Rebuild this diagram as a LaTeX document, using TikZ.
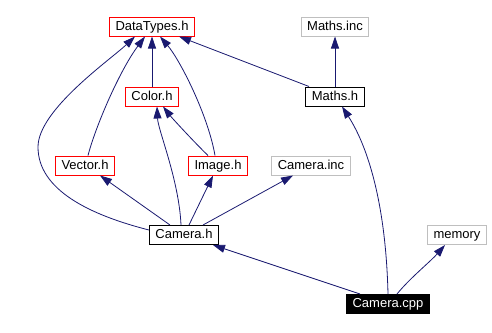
\documentclass[tikz,border=0pt]{standalone}
\usepackage{fontspec}
\setmainfont{Liberation Sans}
\usetikzlibrary{arrows.meta}
\definecolor{edgeblue}{HTML}{191970}
\definecolor{lightframe}{HTML}{BFBFBF}
\begin{document}
\begin{tikzpicture}[x=1pt,y=-1pt,
  file/.style={draw,line width=1pt,inner xsep=6pt,inner ysep=0pt,text=black,
    minimum height=19pt,font=\fontsize{13}{13}\selectfont,text height=9.5pt,text depth=2.5pt},
  redfile/.style={file,draw=red},
  greyfile/.style={file,draw=lightframe},
  blackfile/.style={file,draw=black},
  mainfile/.style={file,draw=black,fill=black,text=white},
  dep/.style={draw=edgeblue,line width=0.8pt,
    -{Triangle[length=12pt,width=8pt]}}]
\useasboundingbox (0,0) rectangle (492,332);

% files
\node[redfile]   (dt)     at (152,26.5)  {DataTypes.h};
\node[greyfile]  (minc)   at (335,26.5)  {Maths.inc};
\node[redfile]   (col)    at (152,96.5)  {Color.h};
\node[blackfile] (mh)     at (335,96.5)  {Maths.h};
\node[redfile]   (vec)    at (85,165.5)  {Vector.h};
\node[redfile]   (img)    at (218,165.5) {Image.h};
\node[greyfile]  (caminc) at (311,165.5) {Camera.inc};
\node[blackfile] (camh)   at (184,235)   {Camera.h};
\node[greyfile]  (mem)    at (457,235)   {memory};
\node[mainfile]  (cpp)    at (388,304)   {Camera.cpp};

% include edges of Camera.cpp
\draw[dep] ([xshift=-28pt]cpp.north) -- ([xshift=29pt]camh.south);
\draw[dep] (cpp.north) .. controls (386,210) and (370,150) .. ([xshift=7pt]mh.south);
\draw[dep] ([xshift=9pt]cpp.north) .. controls (410,278) and (430,262) .. ([xshift=-12pt]mem.south);

% include edges of Camera.h
\draw[dep] ([xshift=-14pt]camh.north) -- ([xshift=15pt]vec.south);
\draw[dep] ([xshift=-3pt]camh.north) .. controls (179,180) and (158,130) .. ([xshift=5pt]col.south);
\draw[dep] ([xshift=5pt]camh.north) -- ([xshift=-5pt]img.south);
\draw[dep] ([xshift=19pt]camh.north) -- ([xshift=-18pt]caminc.south);
\draw[dep] ([yshift=5pt]camh.west) .. controls (90,215) and (38,190) .. (38,147)
  .. controls (38,110) and (110,60) .. ([xshift=-17pt]dt.south);

% include edges of the headers
\draw[dep] ([xshift=3pt]vec.north) .. controls (96,125) and (120,70) .. ([xshift=-7pt]dt.south);
\draw[dep] (col.north) -- (dt.south);
\draw[dep] ([xshift=-3pt]img.north) .. controls (208,115) and (180,60) .. ([xshift=8pt]dt.south);
\draw[dep] ([xshift=-10pt]img.north) .. controls (195,143) and (172,118) .. ([xshift=11pt]col.south);
\draw[dep] ([xshift=-26pt]mh.north) -- ([xshift=27pt]dt.south);
\draw[dep] (mh.north) -- (minc.south);
\end{tikzpicture}
\end{document}
